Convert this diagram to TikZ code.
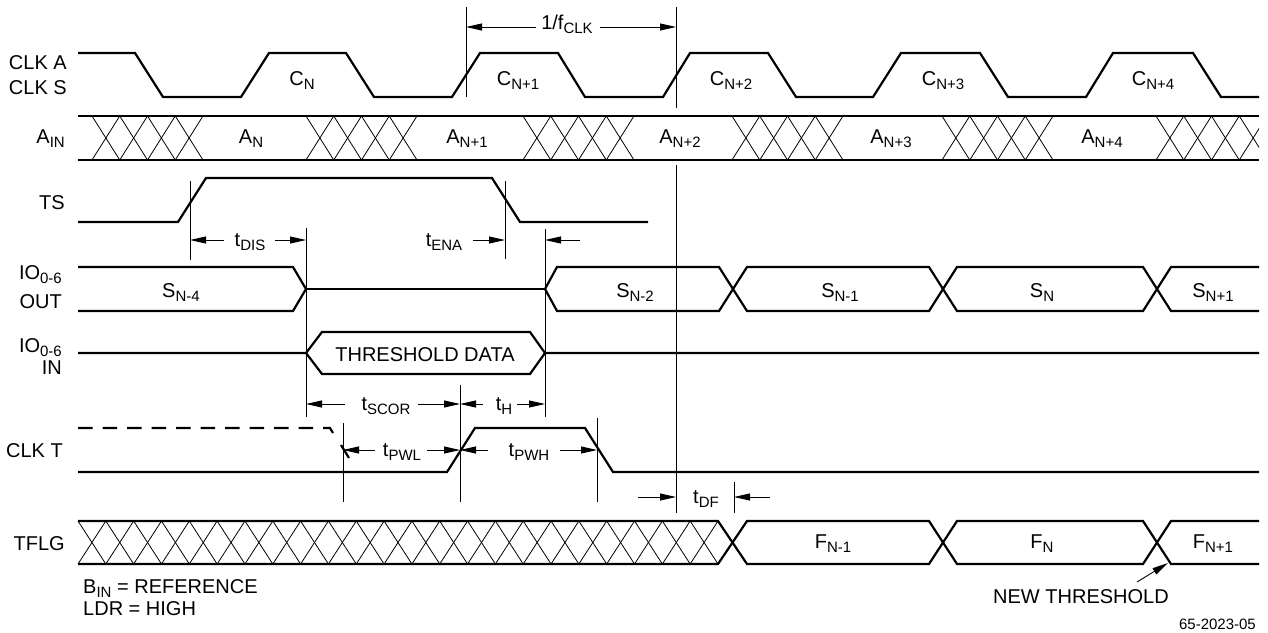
\documentclass[tikz,border=0pt]{standalone}
\usepackage{fontspec}
\setmainfont{Liberation Sans}
\usetikzlibrary{arrows.meta}
\newcommand{\sbs}[1]{\raisebox{-4.5pt}{\fontsize{15}{15}\selectfont #1}}
\begin{document}
\begin{tikzpicture}[x=1pt,y=-1pt,
  font=\fontsize{20}{22}\selectfont,
  sig/.style={line width=2.2pt},
  thin/.style={line width=0.9pt},
  hatch/.style={line width=0.8pt},
  dimarrow/.style={line width=0.9pt,-{Triangle[length=16pt,width=7pt]}},
  lbl/.style={inner sep=0pt,anchor=base},
  lft/.style={inner sep=0pt,anchor=base east},
  lftl/.style={inner sep=0pt,anchor=base west}]
\useasboundingbox (0,0) rectangle (1268,632);

% ---------- left labels ----------
\node[lft] (lclka) at (67,69) {CLK A};
\node[lft] (lclks) at (67,94) {CLK S};
\node[lft] (lain) at (65,143) {A\sbs{IN}};
\node[lft] (lts) at (65,209) {TS};
\node[lft] (lioo) at (62,279) {IO\sbs{0-6}};
\node[lft] (lout) at (62,308) {OUT};
\node[lft] (lioi) at (62,352) {IO\sbs{0-6}};
\node[lft] (lin) at (62,374) {IN};
\node[lft] (lclkt) at (63,457) {CLK T};
\node[lft] (ltflg) at (65,550) {TFLG};

% ---------- CLK A / CLK S ----------
\draw[sig] (78,53)--(135,53)--(163,97)--(241,97)--(269,53)--(346,53)--(374,97)
  --(452,97)--(480,53)--(558,53)--(585,97)--(663,97)--(690,53)--(768,53)--(796,97)
  --(873,97)--(901,53)--(980,53)--(1008,97)--(1086,97)--(1113,53)--(1193,53)
  --(1221,97)--(1259,97);
\node[lbl] (cn) at (302,85) {C\sbs{N}};
\node[lbl] (cn1) at (518,85) {C\sbs{N+1}};
\node[lbl] (cn2) at (731,85) {C\sbs{N+2}};
\node[lbl] (cn3) at (943,85) {C\sbs{N+3}};
\node[lbl] (cn4) at (1153,85) {C\sbs{N+4}};

% ---------- A_IN bus ----------
\draw[sig] (78,116)--(1259,116);
\draw[sig] (78,160)--(1259,160);
\begin{scope}
\clip (78,100) rectangle (1259,175);
\foreach \s in {92,306,523,732,942,1156}{
  \foreach \k in {0,...,3}{
    \draw[hatch] ({\s+\k*27.75},116)--({\s+(\k+1)*27.75},160);
    \draw[hatch] ({\s+\k*27.75},160)--({\s+(\k+1)*27.75},116);
  }
}
\end{scope}
\node[lbl] (an) at (251,143) {A\sbs{N}};
\node[lbl] (an1) at (467,143) {A\sbs{N+1}};
\node[lbl] (an2) at (680,143) {A\sbs{N+2}};
\node[lbl] (an3) at (891,143) {A\sbs{N+3}};
\node[lbl] (an4) at (1102,143) {A\sbs{N+4}};

% ---------- TS ----------
\draw[sig] (78,222)--(178,222)--(206,178)--(492,178)--(520,222)--(648,222);

% ---------- IO OUT ----------
\draw[sig] (78,267)--(293,267)--(306,289)--(293,311)--(78,311);
\draw[sig] (306,289)--(545,289);
\draw[sig] (545,289)--(557,267)--(719,267)--(747,311)--(929,311)--(957,267)
  --(1143,267)--(1171,311)--(1259,311);
\draw[sig] (545,289)--(557,311)--(719,311)--(747,267)--(929,267)--(957,311)
  --(1143,311)--(1171,267)--(1259,267);
\node[lbl] (sn4) at (181,297) {S\sbs{N-4}};
\node[lbl] (sn2) at (635,297) {S\sbs{N-2}};
\node[lbl] (sn1) at (840,297) {S\sbs{N-1}};
\node[lbl] (sn) at (1042,297) {S\sbs{N}};
\node[lbl] (snp1) at (1213,297) {S\sbs{N+1}};

% ---------- IO IN ----------
\draw[sig] (78,353)--(306,353)--(322,332)--(530,332)--(545,353)--(1259,353);
\draw[sig] (306,353)--(322,374)--(530,374)--(545,353);
\node[lbl] (thr) at (425,361) {THRESHOLD DATA};

% ---------- CLK T ----------
\draw[sig,dash pattern=on 14.5pt off 10pt] (78,428)--(330,428)--(333,433);
\draw[sig] (341,445)--(349,458);
\draw[sig] (78,472)--(447,472)--(475,428)--(585,428)--(613,472)--(1259,472);

% ---------- TFLG ----------
\foreach \k in {0,...,22}{
  \draw[hatch] ({78+\k*27.826},521)--({78+(\k+1)*27.826},564);
  \draw[hatch] ({78+\k*27.826},564)--({78+(\k+1)*27.826},521);
}
\draw[sig] (78,521)--(718,521)--(747,564)--(929,564)--(957,521)--(1143,521)
  --(1171,564)--(1259,564);
\draw[sig] (78,564)--(718,564)--(747,521)--(929,521)--(957,564)--(1143,564)
  --(1171,521)--(1259,521);
\node[lbl] (fn1) at (833,548) {F\sbs{N-1}};
\node[lbl] (fn) at (1042,548) {F\sbs{N}};
\node[lbl] (fnp1) at (1213,548) {F\sbs{N+1}};

% ---------- timing reference lines ----------
\draw[thin] (466,7)--(466,97);
\draw[thin] (676,7)--(676,108);
\draw[thin] (676,165)--(676,513);
\draw[thin] (190,181)--(190,260);
\draw[thin] (306,228)--(306,417);
\draw[thin] (505,181)--(505,259);
\draw[thin] (545,229)--(545,417);
\draw[thin] (460,385)--(460,502);
\draw[thin] (343,423)--(343,502);
\draw[thin] (597,418)--(597,502);
\draw[thin] (734,482)--(734,513);

% ---------- dimension labels and arrows ----------
\node[lbl] (fclk) at (567,29) {1/f\sbs{CLK}};
\draw[dimarrow] (536,27)--(466,27);
\draw[dimarrow] (600,27)--(676,27);

\node[lbl] (tdis) at (250,246) {t\sbs{DIS}};
\draw[dimarrow] (224,240)--(190,240);
\draw[dimarrow] (275,240)--(306,240);

\node[lbl] (tena) at (444,246) {t\sbs{ENA}};
\draw[dimarrow] (473,240)--(505,240);
\draw[dimarrow] (580,240)--(545,240);

\node[lbl] (tscor) at (386,410) {t\sbs{SCOR}};
\draw[dimarrow] (345,404)--(306,404);
\draw[dimarrow] (418,404)--(460,404);

\node[lbl] (th) at (504,410) {t\sbs{H}};
\draw[dimarrow] (483,404)--(460,404);
\draw[dimarrow] (517,404)--(545,404);

\node[lbl] (tpwl) at (402,456) {t\sbs{PWL}};
\draw[dimarrow] (375,450)--(343,450);
\draw[dimarrow] (427,450)--(460,450);

\node[lbl] (tpwh) at (529,456) {t\sbs{PWH}};
\draw[dimarrow] (488,450)--(460,450);
\draw[dimarrow] (560,450)--(597,450);

\node[lbl] (tdf) at (706,503) {t\sbs{DF}};
\draw[dimarrow] (638,497)--(676,497);
\draw[dimarrow] (770,497)--(734,497);

% ---------- notes ----------
\node[lftl] (bin) at (83,593) {B\sbs{IN} = REFERENCE};
\node[lftl] (ldr) at (83,615) {LDR = HIGH};
\node[lftl] (newthr) at (993,603) {NEW THRESHOLD};
\coordinate (newtip) at (1168,563);
\draw[dimarrow] (1137,582)--(newtip);
\node[inner sep=0pt,anchor=base east,font=\fontsize{15}{16}\selectfont] (ref) at (1256,629) {65-2023-05};
\end{tikzpicture}
\end{document}
